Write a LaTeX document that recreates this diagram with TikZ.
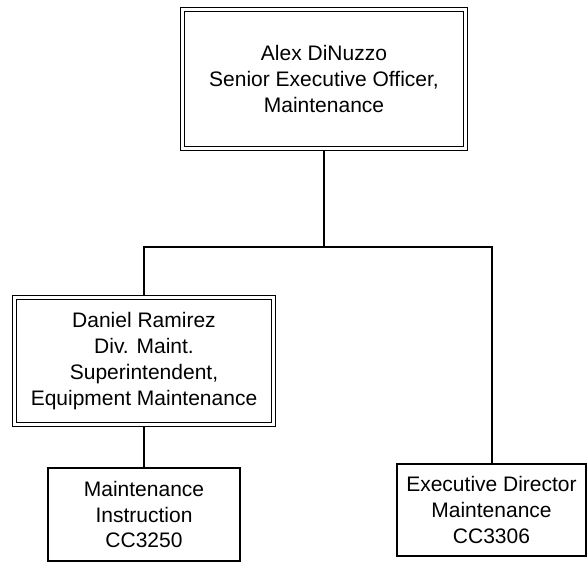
\documentclass[tikz,border=0pt]{standalone}
\usepackage{fontspec}
\setmainfont{Liberation Sans}
\usepackage{tikz}

\begin{document}
\begin{tikzpicture}[x=0.75pt, y=-0.75pt,
    font=\fontsize{15.75}{19.4}\selectfont,
    box/.style={draw, line width=1.5pt, align=center, inner sep=0pt},
    dbox/.style={draw, line width=1.1pt, double, double distance=1.9pt,
      align=center, inner sep=0pt, outer sep=2.1pt},
    link/.style={draw, line width=1.5pt}]
  \useasboundingbox (0,0) rectangle (588,563);

  % Boxes
  \node[dbox, minimum width=212pt, minimum height=104pt] (alex) at (324,79)
    {Alex DiNuzzo\\Senior Executive Officer,\\Maintenance};
  \node[dbox, minimum width=194pt, minimum height=95pt] (daniel) at (144,361)
    {Daniel Ramirez\\Div. Maint.\\Superintendent,\\Equipment Maintenance};
  \node[box, minimum width=144pt, minimum height=70pt] (instr) at (144,514.5)
    {Maintenance\\Instruction\\CC3250};
  \node[box, minimum width=142pt, minimum height=69pt] (exec) at (491.5,510)
    {Executive Director\\Maintenance\\CC3306};

  % Connectors
  \coordinate (split) at (324,247);
  \draw[link] (alex.south) -- (split);
  \draw[link] (daniel.north) |- (split) -| (exec.north);
  \draw[link] (daniel.south) -- (instr.north);
\end{tikzpicture}
\end{document}
